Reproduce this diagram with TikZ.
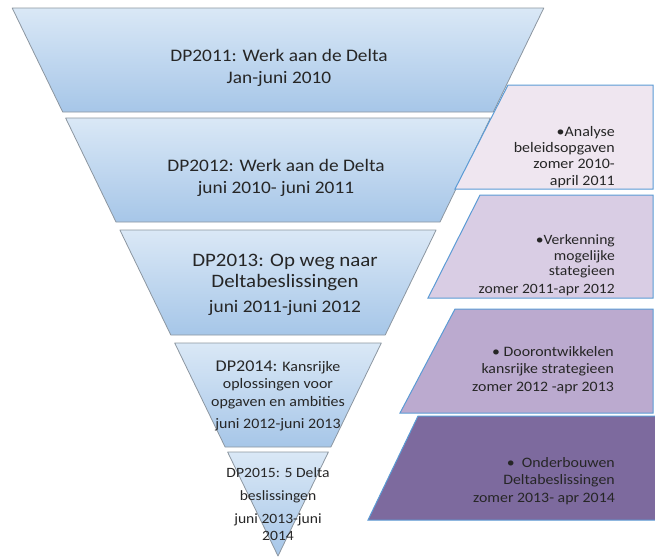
\documentclass[tikz,border=0pt]{standalone}
\usepackage{fontspec}
\setmainfont{Carlito}[FakeStretch=1.1]
\definecolor{bandtop}{HTML}{DAE8F6}
\definecolor{bandbot}{HTML}{A6C6E8}
\definecolor{bandedge}{HTML}{8C96A0}
\definecolor{boxline}{HTML}{5B9BD5}
\definecolor{boxA}{HTML}{EFE6F0}
\definecolor{boxB}{HTML}{D9CDE4}
\definecolor{boxC}{HTML}{BBAACF}
\definecolor{boxD}{HTML}{7D6A9E}
\definecolor{txt}{HTML}{262626}
\tikzset{
  band/.style={draw=bandedge, line width=0.8pt, top color=bandtop, bottom color=bandbot, line join=round},
  rbox/.style={draw=boxline, line width=1pt},
  bandtext/.style={align=center, text=txt, inner sep=0pt, font=\fontsize{17.6}{22}\selectfont},
  boxtext/.style={align=right, text=txt, inner sep=0pt, anchor=east, font=\fontsize{14.5}{16.2}\selectfont}
}
\begin{document}
\begin{tikzpicture}[x=1pt,y=-1pt]
\useasboundingbox (0,0) rectangle (655,558);
% funnel bands
\path[band] (12.2,8) -- (543.8,8) -- (493.3,112) -- (62.7,112) -- cycle;
\path[band] (65.6,118) -- (490.4,118) -- (440.0,222) -- (116.0,222) -- cycle;
\path[band] (119.9,230) -- (436.1,230) -- (385.2,335) -- (170.8,335) -- cycle;
\path[band] (174.7,343) -- (381.3,343) -- (330.9,447) -- (225.1,447) -- cycle;
\path[band] (227.6,452) -- (328.4,452) -- (278,556) -- cycle;
% right boxes
\path[rbox, fill=boxA] (508,85) -- (653,85) -- (653,189) -- (455,189) -- cycle;
\path[rbox, fill=boxB] (480,195) -- (653,195) -- (653,298) -- (428,298) -- cycle;
\path[rbox, fill=boxC] (455,309) -- (653,309) -- (653,413) -- (400,413) -- cycle;
\path[rbox, fill=boxD] (418,416) -- (656,416) -- (656,520) -- (368,520) -- cycle;
% band texts
\node[bandtext] (t1) at (279,68) {DP2011: Werk aan de Delta\\Jan-juni 2010};
\node[bandtext] (t2) at (276,178) {DP2012: Werk aan de Delta\\juni 2010- juni 2011};
\node[bandtext, font=\fontsize{19}{20.5}\selectfont] (t3) at (285,285) {DP2013: Op weg naar\\Deltabeslissingen\\[5pt]{\fontsize{17.6}{20.5}\selectfont juni 2011-juni 2012}};
\node[bandtext, font=\fontsize{14.5}{17.5}\selectfont] (t4) at (278,396) {{\fontsize{16.4}{17.5}\selectfont DP2014:} Kansrijke\\oplossingen voor\\opgaven en ambities\\[5pt]juni 2012-juni 2013};
\node[bandtext, font=\fontsize{14.2}{17}\selectfont] (t5) at (278,504) {DP2015: 5 Delta\\[6pt]beslissingen\\[6pt]juni 2013-juni\\2014};
% box texts
\node[boxtext] (b1) at (615,157) {•Analyse\\beleidsopgaven\\zomer 2010-\\april 2011};
\node[boxtext, font=\fontsize{14.2}{15.5}\selectfont] (b2) at (615,265) {•Verkenning\\mogelijke\\stategieen\\[2pt]zomer 2011-apr 2012};
\node[boxtext, font=\fontsize{14.4}{17.5}\selectfont] (b3) at (614,370) {• Doorontwikkelen\\kansrijke strategieen\\zomer 2012 -apr 2013};
\node[boxtext, font=\fontsize{14.4}{17.5}\selectfont] (b4) at (615,481) {• \ Onderbouwen\\Deltabeslissingen\\zomer 2013- apr 2014};
\end{tikzpicture}
\end{document}
